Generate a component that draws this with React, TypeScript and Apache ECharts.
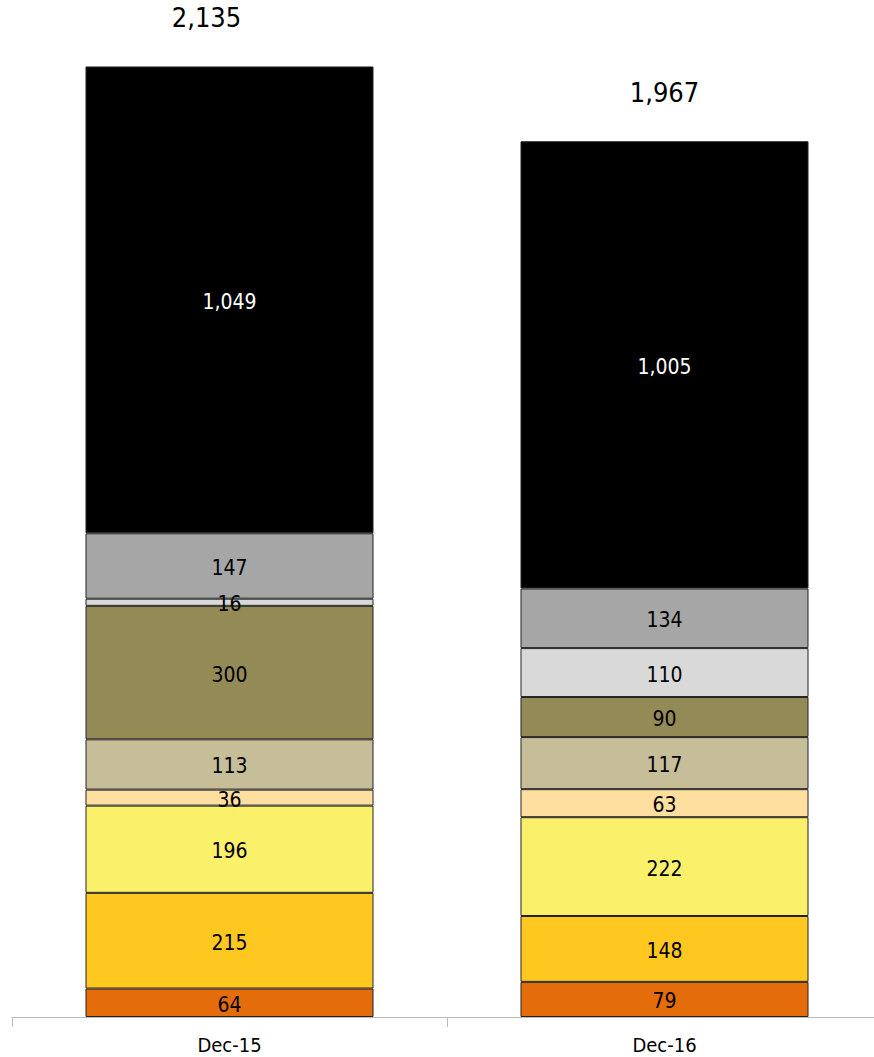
import React, { useEffect, useRef } from "react";
import * as echarts from "echarts";

const categories = ["Dec-15", "Dec-16"];
const seriesNames = ["S1", "S2", "S3", "S4", "S5", "S6", "S7", "S8", "S9"];
const s1 = [64, 79];
const s2 = [215, 148];
const s3 = [196, 222];
const s4 = [36, 63];
const s5 = [113, 117];
const s6 = [300, 90];
const s7 = [16, 110];
const s8 = [147, 134];
const s9 = [1049, 1005];
const totals = [2135, 1967];
const colors = ["#E46C0A", "#FFC820", "#FAF06A", "#FFDFA0", "#C5BE98", "#948A55", "#D9D9D9", "#A6A6A6", "#000000"];
const labelColors = ["#000", "#000", "#000", "#000", "#000", "#000", "#000", "#000", "#fff"];

const FONT = "'DejaVu Sans Condensed', 'DejaVu Sans', sans-serif";

export default function App() {
  const ref = useRef<HTMLDivElement>(null);
  useEffect(() => {
    if (!ref.current) return;
    const chart = echarts.init(ref.current, undefined, { renderer: "svg" });
    const values = [s1, s2, s3, s4, s5, s6, s7, s8, s9];
    const fmt = (v: number) => v.toLocaleString("en-US");
    const series: any[] = values.map((d, i) => ({
      name: seriesNames[i],
      type: "bar",
      stack: "total",
      data: d,
      barWidth: 288,
      itemStyle: { color: colors[i], borderColor: "#222", borderWidth: 1 },
      label: {
        show: true,
        position: "inside",
        offset: [0, 2],
        color: labelColors[i],
        fontFamily: FONT,
        fontSize: 21,
        formatter: (p: any) => fmt(p.value),
      },
    }));
    series.push({
      name: "Total",
      type: "bar",
      stack: "total",
      data: totals.map((t, i) => ({
        value: 0,
        label: { offset: i === 0 ? [-23, 0] : [0, 0] },
      })),
      barWidth: 288,
      itemStyle: { color: "transparent", borderWidth: 0 },
      label: {
        show: true,
        position: "top",
        distance: 35,
        color: "#000",
        fontFamily: FONT,
        fontSize: 27,
        formatter: (p: any) => fmt(totals[p.dataIndex]),
      },
    });
    chart.setOption({
      animation: false,
      grid: { left: 12, right: 18, top: 38, bottom: 40, containLabel: false },
      xAxis: {
        type: "category",
        data: categories,
        axisLine: { lineStyle: { color: "#BBBBBB", width: 1 } },
        axisTick: { show: true, length: 10, lineStyle: { color: "#BBBBBB" } },
        axisLabel: { color: "#000", fontFamily: FONT, fontSize: 20, margin: 18 },
      },
      yAxis: {
        type: "value",
        min: 0,
        max: 2200,
        show: false,
        splitLine: { show: false },
      },
      series,
    });
    return () => chart.dispose();
  }, []);
  return (
    <div style={{ position: "absolute", left: 0, top: 0, width: 874, height: 1057, overflow: "hidden" }}>
      <div ref={ref} style={{ width: 900, height: 1057 }} />
    </div>
  );
}
